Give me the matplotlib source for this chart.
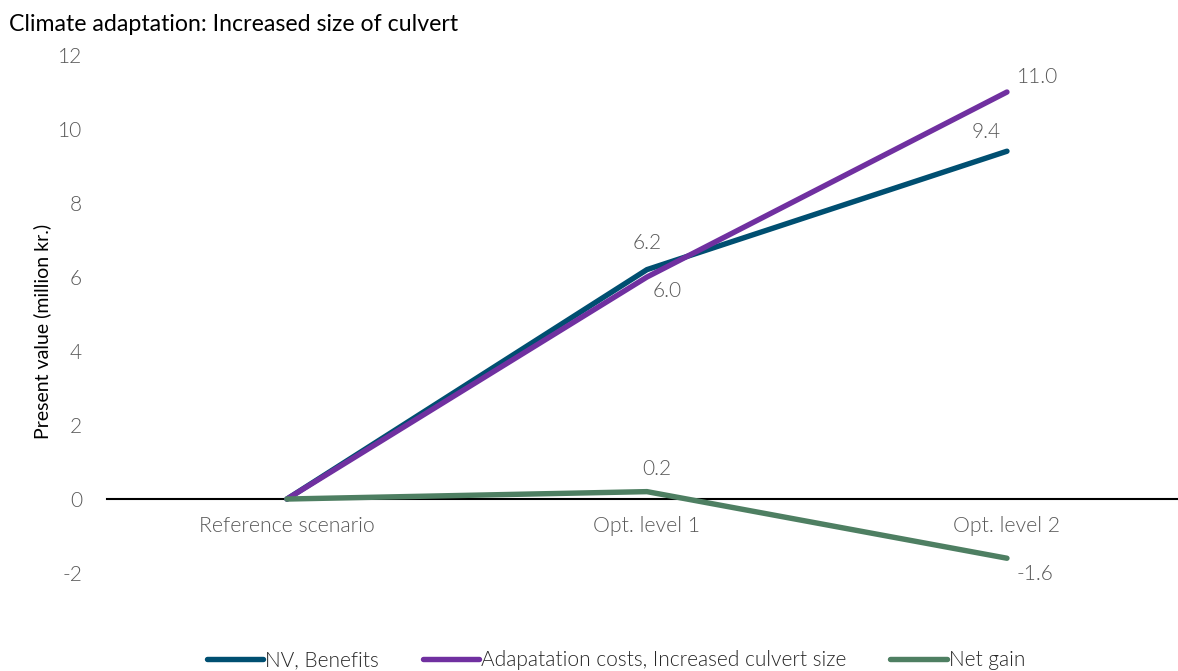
import os
import numpy as np
import matplotlib.pyplot as plt
from matplotlib import font_manager

# categories and series (present value, million kr.)
scenarios = ['Reference scenario', 'Opt. level 1', 'Opt. level 2']
benefits = [0.0, 6.2, 9.4]
costs = [0.0, 6.0, 11.0]
net_gain = [0.0, 0.2, -1.6]

yticks = [-2, 0, 2, 4, 6, 8, 10, 12]

teal = '#004F71'
purple = '#7030A0'
green = '#4E7F62'
grey = '#595959'

plt.rcParams['font.family'] = ['Lato', 'DejaVu Sans']

# look for the Lato Light file, fall back to regular Lato
light_path = None
for f in font_manager.findSystemFonts():
    name = os.path.basename(f).lower()
    if 'lato' in name and 'light' in name and 'italic' not in name:
        light_path = f
        break


def light(size):
    if light_path:
        return font_manager.FontProperties(fname=light_path, size=size)
    return font_manager.FontProperties(family='Lato', size=size)


fig = plt.figure(figsize=(11.78, 6.71), dpi=100)
ax = fig.add_axes([0.0908, 0.146, 0.9168, 0.772])

# zero line drawn by the bottom spine; set first since it resets the ticks
for s in ['top', 'right', 'left']:
    ax.spines[s].set_visible(False)
ax.spines['bottom'].set_position(('data', 0))
ax.spines['bottom'].set_color('black')
ax.spines['bottom'].set_linewidth(1.5)
ax.spines['bottom'].set_zorder(0)

x = np.arange(len(scenarios))
ax.plot(x, benefits, color=teal, lw=3.9, solid_capstyle='round', label='NV, Benefits')
ax.plot(x, costs, color=purple, lw=3.9, solid_capstyle='round',
        label='Adapatation costs, Increased culvert size')
ax.plot(x, net_gain, color=green, lw=3.9, solid_capstyle='round', label='Net gain')

# value labels (offsets in pixels)
labels = [
    (1, benefits[1], (0, 27)),
    (1, costs[1], (20, -14)),
    (2, benefits[2], (-21, 19)),
    (2, costs[2], (31, 15)),
    (1, net_gain[1], (10, 23)),
    (2, net_gain[2], (28, -16)),
]
for xi, v, off in labels:
    ax.annotate(f'{v:.1f}', (xi, v), xytext=off, textcoords='offset pixels',
                ha='center', va='center', fontproperties=light(15), color=grey)

ax.set_xlim(-0.5, 2.5)
ax.set_ylim(-2, 12)
ax.set_xticks(x)
ax.set_xticklabels(scenarios, fontproperties=light(15.3), color=grey)
ax.set_yticks(yticks)
ax.set_yticklabels([str(t) for t in yticks], fontproperties=light(15), color=grey)
ax.tick_params(axis='both', length=0)
ax.tick_params(axis='x', pad=12)
ax.tick_params(axis='y', pad=18)

ax.set_ylabel('Present value (million kr.)', fontsize=14, color='black')
ax.yaxis.set_label_coords(-0.052, 0.467)

fig.text(0.008, 0.963, 'Climate adaptation: Increased size of culvert',
         fontsize=16.7, color='black', va='center', ha='left')

leg = fig.legend(loc='center', bbox_to_anchor=(0.523, 0.016), ncol=3, frameon=False,
                 handlelength=2.7, handletextpad=0.1, columnspacing=2.1,
                 prop=light(15))
for t in leg.get_texts():
    t.set_color('#262626')

fig.savefig('out.png', dpi=100)
